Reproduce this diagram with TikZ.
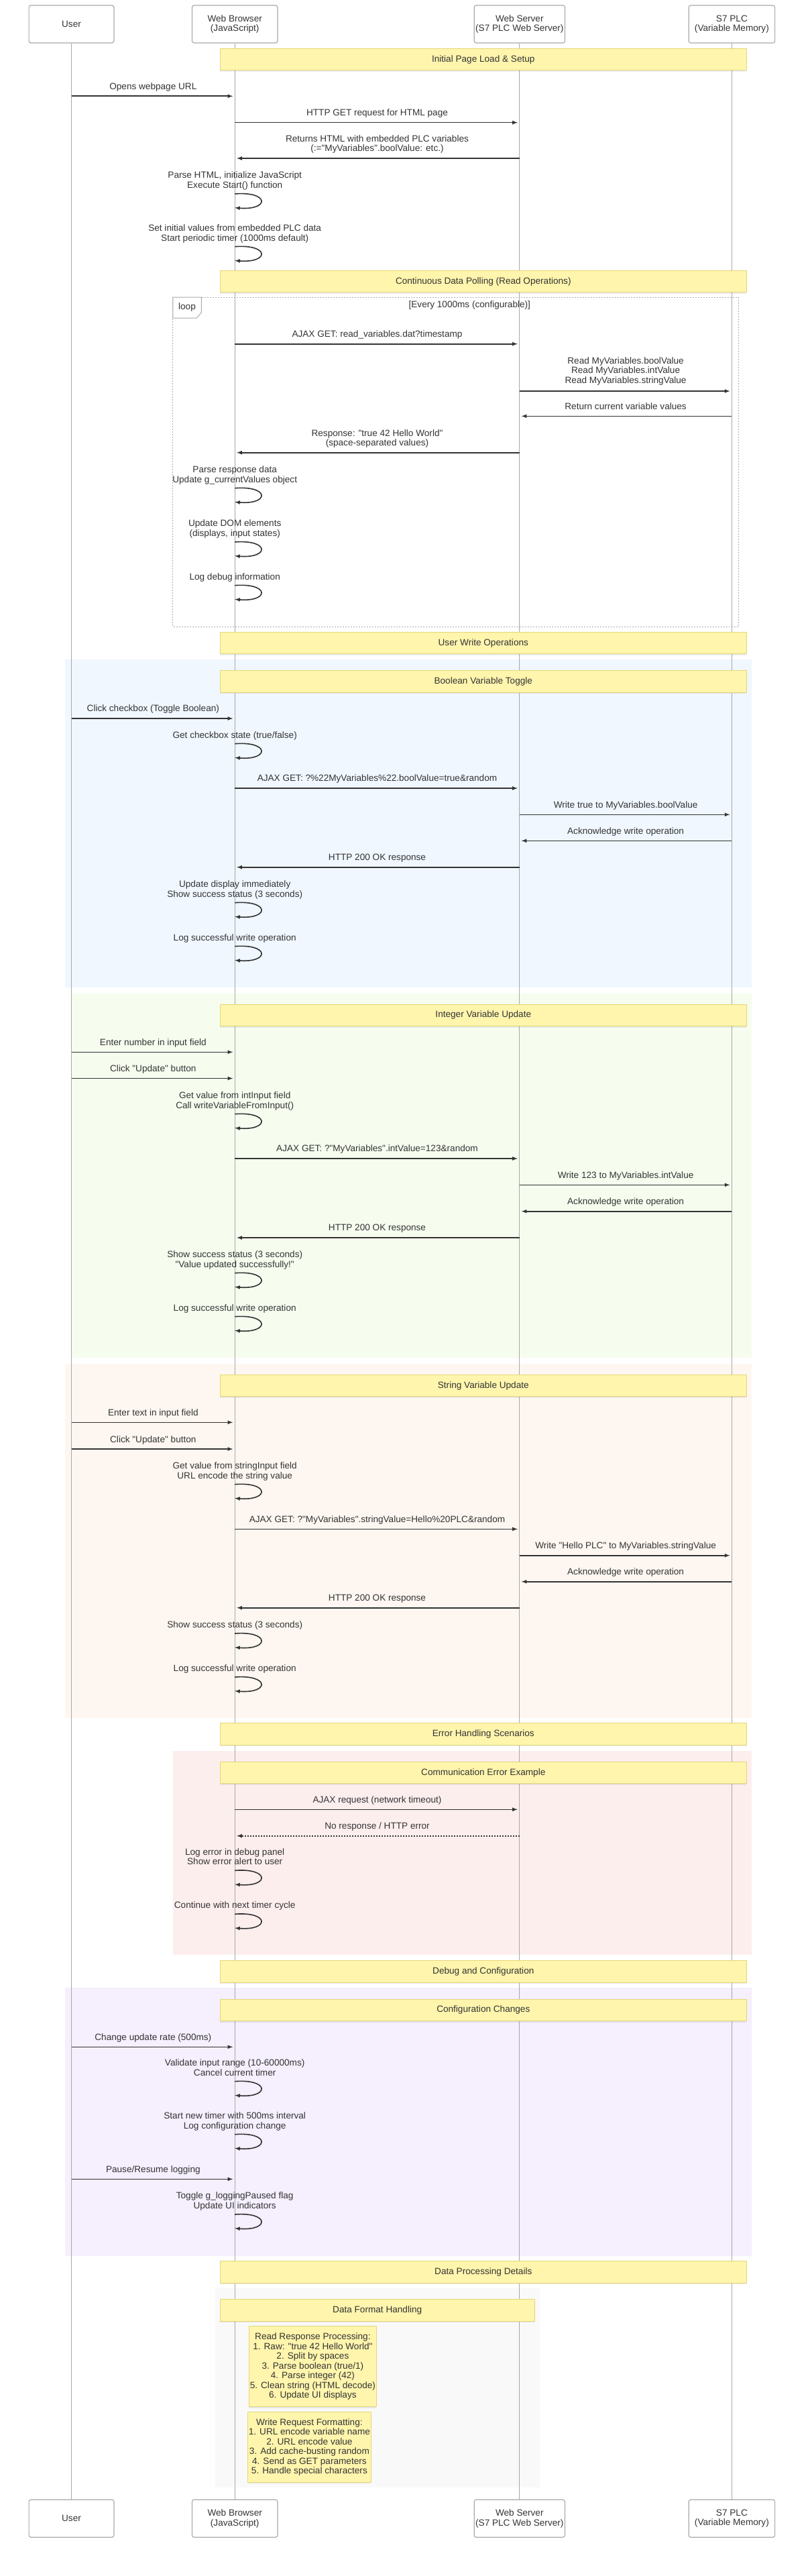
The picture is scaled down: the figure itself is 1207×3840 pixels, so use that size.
\documentclass[tikz,border=0pt]{standalone}
\usepackage{fontspec}
\setmainfont{Liberation Sans}[Ligatures=TeXOff]
\usepackage{xcolor}
\usepackage{tikz}
\usetikzlibrary{positioning, shadows}

\definecolor{ink}{HTML}{333333}
\definecolor{actorline}{HTML}{AAAAAA}
\definecolor{lifegrey}{HTML}{A8A8A8}
\definecolor{notefill}{HTML}{FFF5AD}
\definecolor{noteline}{RGB}{228,214,120}
\definecolor{loopgrey}{HTML}{AAAAAA}
\definecolor{blueblock}{RGB}{240,247,255}
\definecolor{greenblock}{RGB}{246,253,239}
\definecolor{orangeblock}{RGB}{254,247,241}
\definecolor{redblock}{RGB}{253,238,238}
\definecolor{purpleblock}{RGB}{245,239,254}
\definecolor{greyblock}{RGB}{249,249,249}

\begin{document}
\begin{tikzpicture}[x=1pt, y=-1pt, every node/.style={font=\fontsize{13.6}{14.5}\selectfont, text=ink}]

  \tikzstyle{actor}=[draw=actorline, fill=white, rounded corners=3pt, line width=1.2pt, minimum height=56pt, inner sep=2pt, align=center]
  \tikzstyle{lifeline}=[draw=lifegrey, line width=0.8pt]
  \tikzstyle{note}=[draw=noteline, fill=notefill, line width=1pt, minimum height=32.5pt, inner sep=1pt, align=center, drop shadow={shadow xshift=0pt, shadow yshift=-2pt, opacity=0.15}]
  \tikzstyle{bar}=[note, minimum width=784.7pt]
  \tikzstyle{msg}=[draw=ink, line width=1.6pt, -latex, shorten >=3pt]
  \tikzstyle{reply}=[msg, dash pattern=on 2pt off 2pt]
  \tikzstyle{selfcall}=[draw=ink, line width=1.6pt, -latex]
  \tikzstyle{msglabel}=[midway, above=6.4pt, inner sep=0pt, align=center, execute at end node=\vphantom{g}]
  \tikzstyle{selflabel}=[above=5pt, inner sep=0pt, align=center, execute at end node=\vphantom{g}]
  \tikzstyle{loopframe}=[draw=loopgrey, line width=1pt, dash pattern=on 2pt off 2pt]

  \path[use as bounding box, fill=white] (0,0) rectangle (1207,3840);

  \fill[blueblock] (96.8,982.7) rectangle (1121,1471.7);
  \fill[greenblock] (106.2,1480.7) rectangle (1121,2024);
  \fill[orangeblock] (96.8,2033.3) rectangle (1121,2560.7);
  \fill[redblock] (257.8,2610) rectangle (1121,2914.3);
  \fill[purpleblock] (96.8,2963.3) rectangle (1121,3362.7);
  \fill[greyblock] (320.8,3411) rectangle (804.6,3707.7);

  \node[actor, minimum width=126.8pt] (user) at (106.5,36) {User};
  \node[actor, minimum width=127.4pt] (browser) at (350.2,36) {Web Browser\\(JavaScript)};
  \node[actor, minimum width=135.3pt] (server) at (774.8,36) {Web Server\\(S7 PLC Web Server)};
  \node[actor, minimum width=128.4pt] (plc) at (1091.4,36) {S7 PLC\\(Variable Memory)};

  \node[actor, minimum width=126.8pt, below=3661pt of user] (user-b) {User};
  \node[actor, minimum width=127.4pt, below=3661pt of browser] (browser-b) {Web Browser\\(JavaScript)};
  \node[actor, minimum width=135.3pt, below=3661pt of server] (server-b) {Web Server\\(S7 PLC Web Server)};
  \node[actor, minimum width=128.4pt, below=3661pt of plc] (plc-b) {S7 PLC\\(Variable Memory)};

  \draw[lifeline] (user) -- (user-b);
  \draw[lifeline] (browser) -- (browser-b);
  \draw[lifeline] (server) -- (server-b);
  \draw[lifeline] (plc) -- (plc-b);

  \draw[loopframe] (257.8,443) rectangle (1101.3,934);
  \draw[draw=loopgrey, fill=white, line width=1pt] (257.8,443) -- (300.3,443) -- (300.3,466) -- (293.3,474) -- (257.8,474) -- cycle;
  \node (loop-tag) at (279,458) {loop};
  \node (loop-cond) at (700.3,455) {[Every 1000ms (configurable)]};

  \node[bar] (n-init) at (720.8,88.5) {Initial Page Load \& Setup};
  \node[bar] (n-poll) at (720.8,419.5) {Continuous Data Polling (Read Operations)};
  \node[bar] (n-write) at (720.8,958.7) {User Write Operations};
  \node[bar] (n-bool) at (720.8,1015.9) {Boolean Variable Toggle};
  \node[bar] (n-int) at (720.8,1513.3) {Integer Variable Update};
  \node[bar] (n-str) at (720.8,2065.7) {String Variable Update};
  \node[bar] (n-err) at (720.8,2585.2) {Error Handling Scenarios};
  \node[bar] (n-comm) at (720.8,2642.5) {Communication Error Example};
  \node[bar] (n-debug) at (720.8,2939) {Debug and Configuration};
  \node[bar] (n-config) at (720.8,2996.4) {Configuration Changes};
  \node[bar] (n-data) at (720.8,3387) {Data Processing Details};
  \node[note, minimum width=468.7pt] (n-format) at (562.7,3444.2) {Data Format Handling};
  \node[note, minimum width=190.1pt, minimum height=120pt] (n-read) at (466.4,3527.7) {Read Response Processing:\\1. Raw: "true 42 Hello World"\\2. Split by spaces\\3. Parse boolean (true/1)\\4. Parse integer (42)\\5. Clean string (HTML decode)\\6. Update UI displays};
  \node[note, minimum width=180.1pt, minimum height=104.6pt] (n-fmt) at (461.4,3648) {Write Request Formatting:\\1. URL encode variable name\\2. URL encode value\\3. Add cache-busting random\\4. Send as GET parameters\\5. Handle special characters};

  \draw[msg] (user |- 0,143.3) -- (browser |- 0,143.3) node[msglabel] (m-1) {Opens webpage URL};
  \draw[msg] (browser |- 0,182.7) -- (server |- 0,182.7) node[msglabel] (m-2) {HTTP GET request for HTML page};
  \draw[msg] (server |- 0,236) -- (browser |- 0,236) node[msglabel] (m-3) {Returns HTML with embedded PLC variables\\(:="MyVariables".boolValue: etc.)};
  \draw[selfcall] (browser |- 0,289) node[selflabel] (s-1) {Parse HTML, initialize JavaScript\\Execute Start() function} .. controls +(52,-4) and +(52,4) .. (browser |- 0,309.7);
  \draw[selfcall] (browser |- 0,367.7) node[selflabel] (s-2) {Set initial values from embedded PLC data\\Start periodic timer (1000ms default)} .. controls +(52,-4) and +(52,4) .. (browser |- 0,388.4);

  \draw[msg] (browser |- 0,512.7) -- (server |- 0,512.7) node[msglabel] (m-4) {AJAX GET: read\_variables.dat?timestamp};
  \draw[msg] (server |- 0,583) -- (plc |- 0,583) node[msglabel, above=8pt] (m-5) {Read MyVariables.boolValue\\Read MyVariables.intValue\\Read MyVariables.stringValue};
  \draw[msg] (plc |- 0,620.3) -- (server |- 0,620.3) node[msglabel] (m-6) {Return current variable values};
  \draw[msg] (server |- 0,674.7) -- (browser |- 0,674.7) node[msglabel] (m-7) {Response: "true 42 Hello World"\\(space-separated values)};
  \draw[selfcall] (browser |- 0,727.7) node[selflabel] (s-3) {Parse response data\\Update g\_currentValues object} .. controls +(52,-4) and +(52,4) .. (browser |- 0,748.4);
  \draw[selfcall] (browser |- 0,808) node[selflabel] (s-4) {Update DOM elements\\(displays, input states)} .. controls +(52,-4) and +(52,4) .. (browser |- 0,828.7);
  \draw[selfcall] (browser |- 0,872.7) node[selflabel] (s-5) {Log debug information} .. controls +(52,-4) and +(52,4) .. (browser |- 0,893.4);

  \draw[msg] (user |- 0,1071) -- (browser |- 0,1071) node[msglabel] (m-8) {Click checkbox (Toggle Boolean)};
  \draw[selfcall] (browser |- 0,1108.7) node[selflabel] (s-6) {Get checkbox state (true/false)} .. controls +(52,-4) and +(52,4) .. (browser |- 0,1129.4);
  \draw[msg] (browser |- 0,1175) -- (server |- 0,1175) node[msglabel] (m-9) {AJAX GET: ?\%22MyVariables\%22.boolValue=true\&random};
  \draw[msg] (server |- 0,1214.3) -- (plc |- 0,1214.3) node[msglabel] (m-10) {Write true to MyVariables.boolValue};
  \draw[msg] (plc |- 0,1253.3) -- (server |- 0,1253.3) node[msglabel] (m-11) {Acknowledge write operation};
  \draw[msg] (server |- 0,1292.7) -- (browser |- 0,1292.7) node[msglabel] (m-12) {HTTP 200 OK response};
  \draw[selfcall] (browser |- 0,1345.7) node[selflabel] (s-7) {Update display immediately\\Show success status (3 seconds)} .. controls +(52,-4) and +(52,4) .. (browser |- 0,1366.4);
  \draw[selfcall] (browser |- 0,1410.7) node[selflabel] (s-8) {Log successful write operation} .. controls +(52,-4) and +(52,4) .. (browser |- 0,1431.4);

  \draw[msg] (user |- 0,1568.3) -- (browser |- 0,1568.3) node[msglabel] (m-13) {Enter number in input field};
  \draw[msg] (user |- 0,1607.5) -- (browser |- 0,1607.5) node[msglabel] (m-14) {Click "Update" button};
  \draw[selfcall] (browser |- 0,1660.7) node[selflabel] (s-9) {Get value from intInput field\\Call writeVariableFromInput()} .. controls +(52,-4) and +(52,4) .. (browser |- 0,1681.4);
  \draw[msg] (browser |- 0,1727) -- (server |- 0,1727) node[msglabel] (m-15) {AJAX GET: ?"MyVariables".intValue=123\&random};
  \draw[msg] (server |- 0,1766.3) -- (plc |- 0,1766.3) node[msglabel] (m-16) {Write 123 to MyVariables.intValue};
  \draw[msg] (plc |- 0,1805.7) -- (server |- 0,1805.7) node[msglabel] (m-17) {Acknowledge write operation};
  \draw[msg] (server |- 0,1845) -- (browser |- 0,1845) node[msglabel] (m-18) {HTTP 200 OK response};
  \draw[selfcall] (browser |- 0,1897.7) node[selflabel] (s-10) {Show success status (3 seconds)\\"Value updated successfully!"} .. controls +(52,-4) and +(52,4) .. (browser |- 0,1918.4);
  \draw[selfcall] (browser |- 0,1962.7) node[selflabel] (s-11) {Log successful write operation} .. controls +(52,-4) and +(52,4) .. (browser |- 0,1983.4);

  \draw[msg] (user |- 0,2120.3) -- (browser |- 0,2120.3) node[msglabel] (m-19) {Enter text in input field};
  \draw[msg] (user |- 0,2160) -- (browser |- 0,2160) node[msglabel] (m-20) {Click "Update" button};
  \draw[selfcall] (browser |- 0,2212.7) node[selflabel] (s-12) {Get value from stringInput field\\URL encode the string value} .. controls +(52,-4) and +(52,4) .. (browser |- 0,2233.4);
  \draw[msg] (browser |- 0,2279.3) -- (server |- 0,2279.3) node[msglabel] (m-21) {AJAX GET: ?"MyVariables".stringValue=Hello\%20PLC\&random};
  \draw[msg] (server |- 0,2318.7) -- (plc |- 0,2318.7) node[msglabel] (m-22) {Write "Hello PLC" to MyVariables.stringValue};
  \draw[msg] (plc |- 0,2357.7) -- (server |- 0,2357.7) node[msglabel] (m-23) {Acknowledge write operation};
  \draw[msg] (server |- 0,2396.7) -- (browser |- 0,2396.7) node[msglabel] (m-24) {HTTP 200 OK response};
  \draw[selfcall] (browser |- 0,2435) node[selflabel] (s-13) {Show success status (3 seconds)} .. controls +(52,-4) and +(52,4) .. (browser |- 0,2455.7);
  \draw[selfcall] (browser |- 0,2500) node[selflabel] (s-14) {Log successful write operation} .. controls +(52,-4) and +(52,4) .. (browser |- 0,2520.7);

  \draw[msg] (browser |- 0,2697.3) -- (server |- 0,2697.3) node[msglabel] (m-25) {AJAX request (network timeout)};
  \draw[reply] (server |- 0,2736.7) -- (browser |- 0,2736.7) node[msglabel] (m-26) {No response / HTTP error};
  \draw[selfcall] (browser |- 0,2788.3) node[selflabel] (s-15) {Log error in debug panel\\Show error alert to user} .. controls +(52,-4) and +(52,4) .. (browser |- 0,2809);
  \draw[selfcall] (browser |- 0,2853.3) node[selflabel] (s-16) {Continue with next timer cycle} .. controls +(52,-4) and +(52,4) .. (browser |- 0,2874);

  \draw[msg] (user |- 0,3051.3) -- (browser |- 0,3051.3) node[msglabel] (m-27) {Change update rate (500ms)};
  \draw[selfcall] (browser |- 0,3102.7) node[selflabel] (s-17) {Validate input range (10-60000ms)\\Cancel current timer} .. controls +(52,-4) and +(52,4) .. (browser |- 0,3123.4);
  \draw[selfcall] (browser |- 0,3181.7) node[selflabel] (s-18) {Start new timer with 500ms interval\\Log configuration change} .. controls +(52,-4) and +(52,4) .. (browser |- 0,3202.4);
  \draw[msg] (user |- 0,3248.3) -- (browser |- 0,3248.3) node[msglabel] (m-28) {Pause/Resume logging};
  \draw[selfcall] (browser |- 0,3301) node[selflabel] (s-19) {Toggle g\_loggingPaused flag\\Update UI indicators} .. controls +(52,-4) and +(52,4) .. (browser |- 0,3321.7);

\end{tikzpicture}
\end{document}
